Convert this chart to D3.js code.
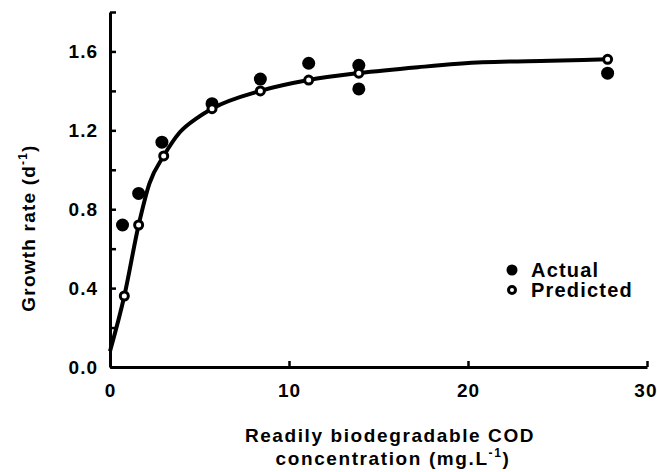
<!DOCTYPE html>
<html>
<head>
<meta charset="utf-8">
<script src="https://cdn.jsdelivr.net/npm/d3@7"></script>
<style>
  body { margin: 0; background: #fff; }
  svg text { font-family: "Liberation Sans", Arial, sans-serif; font-weight: bold; fill: #000; }
</style>
</head>
<body>
<script>
var concActual = [0.7, 1.6, 2.9, 5.7, 8.4, 11.1, 13.9, 13.9, 27.8];
var rateActual = [0.72, 0.88, 1.14, 1.335, 1.46, 1.54, 1.53, 1.41, 1.49];

var concPredicted = [0.8, 1.6, 3.0, 5.7, 8.4, 11.1, 13.9, 27.8];
var ratePredicted = [0.36, 0.72, 1.07, 1.31, 1.40, 1.455, 1.49, 1.56];

// model curve
var fitX = [0, 0.8, 1.6, 2.2, 3.0, 3.9, 4.9, 5.7, 8.4, 11.1, 13.9, 17.2, 20.8, 24.6, 27.8];
var fitY = [0.08, 0.36, 0.72, 0.93, 1.07, 1.19, 1.265, 1.31, 1.40, 1.455, 1.49, 1.52, 1.545, 1.553, 1.56];

var xTicks = [0, 10, 20, 30];
var yTicks = [0, 0.2, 0.4, 0.6, 0.8, 1.0, 1.2, 1.4, 1.6, 1.8];
var legendLabels = ["Actual", "Predicted"];

var width = 657, height = 472;

var svg = d3.select("body")
    .append("svg")
    .attr("width", width)
    .attr("height", height);

var x = d3.scaleLinear().domain([0, 30]).range([110, 647]);
var y = d3.scaleLinear().domain([0, 1.8]).range([367, 12]);

// y axis, ticks pointing inward
var yAxis = svg.append("g")
    .attr("transform", "translate(" + x(0) + ",0)")
    .call(d3.axisLeft(y)
        .tickValues(yTicks)
        .tickSizeInner(-6)
        .tickSizeOuter(0)
        .tickPadding(12)
        .tickFormat(function(d){
            return Math.round(d * 10) % 4 === 0 ? d3.format(".1f")(d) : "";
        }));

// x axis
var xAxis = svg.append("g")
    .attr("transform", "translate(0," + y(0) + ")")
    .call(d3.axisBottom(x)
        .tickValues(xTicks)
        .tickSizeInner(-6)
        .tickSizeOuter(0)
        .tickPadding(17)
        .tickFormat(d3.format("d")));

svg.selectAll(".domain").attr("stroke", "#000").attr("stroke-width", 3);
svg.selectAll(".tick line").attr("stroke", "#000").attr("stroke-width", 2.5);
svg.selectAll(".tick text")
    .style("font-size", "19px")
    .style("letter-spacing", "1px");
// keep the last x label inside the frame
xAxis.selectAll(".tick text").filter(function(d){ return d === 30; })
    .attr("text-anchor", "end")
    .attr("dx", 10);

// fitted curve
var line = d3.line()
    .x(function(d){ return x(d[0]); })
    .y(function(d){ return y(d[1]); })
    .curve(d3.curveMonotoneX);

svg.append("path")
    .datum(d3.zip(fitX, fitY))
    .attr("fill", "none")
    .attr("stroke", "#000")
    .attr("stroke-width", 4)
    .attr("stroke-linejoin", "round")
    .attr("d", line);

// actual points
svg.selectAll(".actual")
    .data(d3.zip(concActual, rateActual))
    .enter().append("circle")
    .attr("class", "actual")
    .attr("cx", function(d){ return x(d[0]); })
    .attr("cy", function(d){ return y(d[1]); })
    .attr("r", 6.5)
    .attr("fill", "#000");

// predicted points
svg.selectAll(".predicted")
    .data(d3.zip(concPredicted, ratePredicted))
    .enter().append("circle")
    .attr("class", "predicted")
    .attr("cx", function(d){ return x(d[0]); })
    .attr("cy", function(d){ return y(d[1]); })
    .attr("r", 4)
    .attr("fill", "#fff")
    .attr("stroke", "#000")
    .attr("stroke-width", 3);

// legend
var legend = svg.append("g").attr("transform", "translate(512,270)");
legend.append("circle").attr("cx", 0).attr("cy", 0).attr("r", 5.5).attr("fill", "#000");
legend.append("circle").attr("cx", 0).attr("cy", 20).attr("r", 3.5)
    .attr("fill", "#fff").attr("stroke", "#000").attr("stroke-width", 3);
legend.selectAll("text")
    .data(legendLabels)
    .enter().append("text")
    .attr("x", 19)
    .attr("y", function(d, i){ return 7 + i * 20; })
    .style("font-size", "20px")
    .style("letter-spacing", "1.2px")
    .text(function(d){ return d; });

// axis titles
var xt = svg.append("text")
    .attr("x", 390)
    .attr("text-anchor", "middle")
    .style("font-size", "19px")
    .style("letter-spacing", "1.6px");
xt.append("tspan").attr("x", 390).attr("y", 442).text("Readily biodegradable COD");
var xt2 = xt.append("tspan").attr("x", 393).attr("y", 465);
xt2.append("tspan").text("concentration (mg.L");
xt2.append("tspan").attr("dy", -8).style("font-size", "12px").text("-1");
xt2.append("tspan").attr("dy", 8).text(")");

var yt = svg.append("text")
    .attr("transform", "translate(35,228) rotate(-90)")
    .attr("text-anchor", "middle")
    .style("font-size", "19px")
    .style("letter-spacing", "1.2px");
yt.append("tspan").text("Growth rate (d");
yt.append("tspan").attr("dy", -8).style("font-size", "12px").text("-1");
yt.append("tspan").attr("dy", 8).text(")");
</script>
</body>
</html>
